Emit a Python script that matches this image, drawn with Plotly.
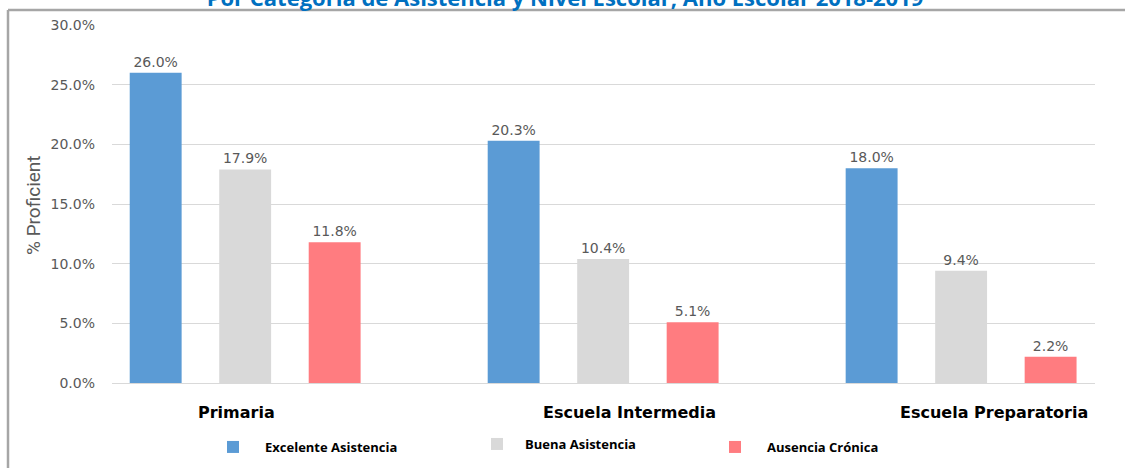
import plotly.graph_objects as go

categories = ["Primaria", "Escuela Intermedia", "Escuela Preparatoria"]
series_names = ["Excelente Asistencia", "Buena Asistencia", "Ausencia Crónica"]
excelente = [26.0, 20.3, 18.0]
buena = [17.9, 10.4, 9.4]
ausencia = [11.8, 5.1, 2.2]
series_values = [excelente, buena, ausencia]
colors = ["#5B9BD5", "#D9D9D9", "#FF7C80"]
y_ticks = [0, 5, 10, 15, 20, 25, 30]
y_ticktext = [f"{v:.1f}%" for v in y_ticks]
title_text = "Por Categoría de Asistencia y Nivel Escolar, Año Escolar 2018-2019"

W, H = 1125, 468
L, R, T, B = 112, 30, 25, 85
pw = W - L - R
ph = H - T - B

def px_to_paper_x(px):
    return (px - L) / pw

def py_to_paper_y(py):
    return (H - B - py) / ph

x_idx = list(range(len(categories)))
fig = go.Figure()
legend_names = ["legend", "legend2", "legend3"]
for name, vals, col, lg in zip(series_names, series_values, colors, legend_names):
    fig.add_trace(go.Bar(
        x=x_idx, y=vals, name=name, marker=dict(color=col, line=dict(width=0)),
        texttemplate="%{y:.1f}%", textposition="outside",
        textfont=dict(family="DejaVu Sans", size=14, color="#595959"),
        cliponaxis=False, legend=lg,
    ))

# legend positions (left pixel, centre y, item width)
leg_pos = [(201, 447, 54), (469, 444, 46), (703, 447, 54)]
leg_font = dict(family="Open Sans", size=13, color="#000000", weight="bold")
legend_cfg = {}
for lg, (px, py, iw) in zip(legend_names, leg_pos):
    legend_cfg[lg] = dict(
        x=px / W, y=1 - py / H, xref="container", yref="container",
        xanchor="left", yanchor="middle", orientation="h", itemwidth=iw,
        font=leg_font, bgcolor="rgba(0,0,0,0)", itemclick=False,
    )

# category label annotations
cat_shift = [-9, 26, 33]
annotations = []
for i, (c, s) in enumerate(zip(categories, cat_shift)):
    annotations.append(dict(
        x=i, y=py_to_paper_y(412), xref="x", yref="paper", text=c, showarrow=False,
        xshift=s, xanchor="center", yanchor="middle",
        font=dict(family="Comic Sans MS, DejaVu Sans", size=16, color="#000000", weight="bold"),
    ))
annotations.append(dict(
    x=px_to_paper_x(33), y=py_to_paper_y(205), xref="paper", yref="paper", text="% Proficient",
    showarrow=False, textangle=-90, xanchor="center", yanchor="middle",
    font=dict(family="Roboto", size=19, color="#595959"),
))

shapes = [
    dict(type="line", xref="paper", yref="paper",
         x0=px_to_paper_x(8), x1=px_to_paper_x(W + 5), y0=py_to_paper_y(10), y1=py_to_paper_y(10),
         line=dict(color="#A6A6A6", width=2.5)),
    dict(type="line", xref="paper", yref="paper",
         x0=px_to_paper_x(8), x1=px_to_paper_x(8), y0=py_to_paper_y(10), y1=py_to_paper_y(H + 5),
         line=dict(color="#A6A6A6", width=2.5)),
]

fig.update_layout(
    width=W, height=H,
    margin=dict(l=L, r=R, t=T, b=B, autoexpand=False),
    paper_bgcolor="white", plot_bgcolor="white",
    barmode="group", bargap=0.25, bargroupgap=0.42,
    title=dict(text=title_text, x=565 / W, xanchor="center", y=1 - 6 / H, yanchor="bottom",
               xref="container", yref="container",
               font=dict(family="Open Sans", size=22, color="#0070C0", weight="bold")),
    xaxis=dict(range=[-0.372, 2.374], showticklabels=False, showgrid=False,
               zeroline=False, showline=False, ticks=""),
    yaxis=dict(range=[0, 30], tickmode="array", tickvals=y_ticks, ticktext=y_ticktext,
               showgrid=True, gridcolor="#D9D9D9", gridwidth=1, zeroline=True,
               zerolinecolor="#D9D9D9", zerolinewidth=1, showline=False, ticks="",
               ticklabelstandoff=16,
               tickfont=dict(family="DejaVu Sans", size=14, color="#595959")),
    annotations=annotations, shapes=shapes,
    showlegend=True,
    **legend_cfg,
)

fig.write_html("out.html", config={"displayModeBar": False},
               post_script="document.body.style.margin='0';")
